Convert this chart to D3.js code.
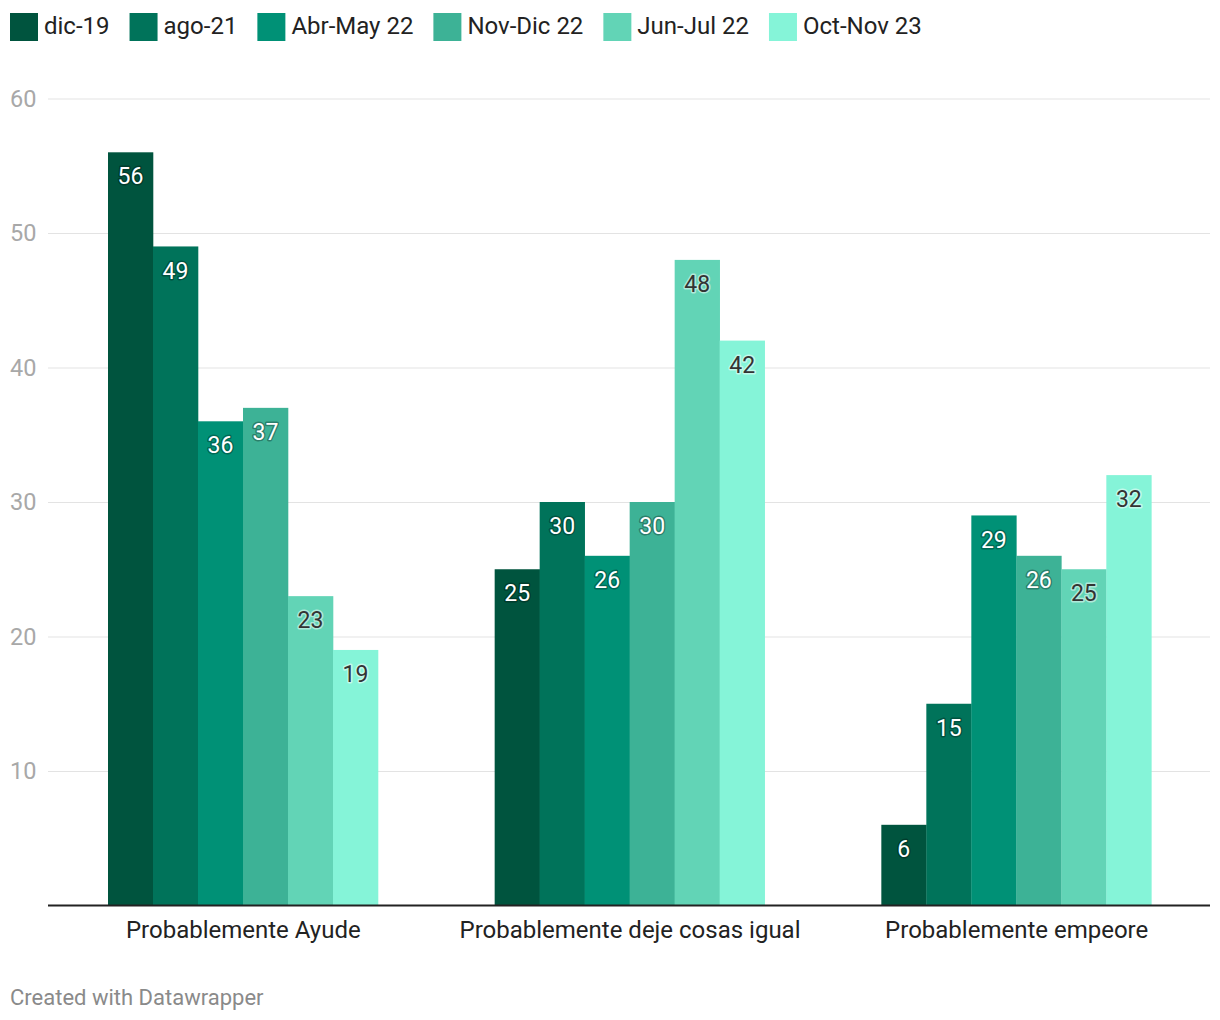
<!DOCTYPE html>
<html><head><meta charset="utf-8">
<script src="https://cdn.jsdelivr.net/npm/d3@7"></script>
<style>body{margin:0;background:#fff;font-family:Roboto,"Noto Sans",sans-serif;}</style>
</head><body>
<svg id="c" width="1220" height="1020"></svg>
<script>
const categories = ["Probablemente Ayude", "Probablemente deje cosas igual", "Probablemente empeore"];
const seriesNames = ["dic-19", "ago-21", "Abr-May 22", "Nov-Dic 22", "Jun-Jul 22", "Oct-Nov 23"];
const seriesColors = ["#00543e", "#00735a", "#009176", "#3db296", "#62d4b6", "#85f4d8"];
const seriesValues = [
  [56, 25, 6],
  [49, 30, 15],
  [36, 26, 29],
  [37, 30, 26],
  [23, 48, 25],
  [19, 42, 32]
];
const yTicks = [10, 20, 30, 40, 50, 60];

const svg = d3.select("#c");
const y = d3.scaleLinear().domain([0, 60]).range([905.5, 98.5]);
const x0 = d3.scaleBand().domain(categories).range([50, 1210]);
const x1 = d3.scaleBand().domain(seriesNames).range([58, 328]);
const font = "Roboto, 'Noto Sans', sans-serif";

// gridlines + y labels
const yAxis = d3.axisLeft(y).tickValues(yTicks).tickSize(-1162).tickFormat(d3.format("d"));
const gy = svg.append("g").attr("transform", "translate(1210,0)").call(yAxis);
gy.select(".domain").remove();
gy.selectAll(".tick line").attr("stroke", "#e3e3e3").attr("stroke-width", 1).attr("x1", 0).attr("x2", -1162);
gy.selectAll(".tick text").remove();
svg.append("g").selectAll("text").data(yTicks).join("text")
  .attr("x", 10).attr("y", d => y(d)).attr("dy", "0.35em")
  .attr("font-family", font).attr("font-size", 23.5).attr("fill", "#a8a8a8").text(d => d);

// bars
seriesNames.forEach((s, si) => {
  categories.forEach((c, ci) => {
    const v = seriesValues[si][ci];
    const bx = x0(c) + x1(s);
    svg.append("rect").attr("x", bx).attr("y", y(v)).attr("width", x1.bandwidth()+0.3)
      .attr("height", y(0) - y(v)).attr("fill", seriesColors[si]);
  });
});
// labels
seriesNames.forEach((s, si) => {
  const dark = si >= 4;
  categories.forEach((c, ci) => {
    const v = seriesValues[si][ci];
    const cx = x0(c) + x1(s) + x1.bandwidth() / 2;
    svg.append("text").attr("x", cx).attr("y", y(v) + 24).attr("dy", "0.35em")
      .attr("text-anchor", "middle").attr("font-family", font).attr("font-size", 23)
      .attr("fill", dark ? "#333" : "#fff")
      .attr("stroke", dark ? "rgba(255,255,255,0.5)" : "rgba(0,0,0,0.3)")
      .attr("stroke-width", 3).attr("paint-order", "stroke").attr("stroke-linejoin", "round")
      .text(v);
  });
});

// baseline
svg.append("line").attr("x1", 48).attr("x2", 1210).attr("y1", 905.5).attr("y2", 905.5)
  .attr("stroke", "#222").attr("stroke-width", 2);

// x axis labels
const xAxis = d3.axisBottom(x0).tickSize(0).tickPadding(0);
const gx = svg.append("g").attr("transform", "translate(0,930)").call(xAxis);
gx.select(".domain").remove();
gx.selectAll(".tick text").attr("font-family", font).attr("font-size", 24).attr("fill", "#222")
  .attr("dy", "0.35em").attr("y", 0);

// legend
const leg = svg.append("g");
let lx = 10;
seriesNames.forEach((s, i) => {
  leg.append("rect").attr("x", lx).attr("y", 13).attr("width", 28).attr("height", 28).attr("fill", seriesColors[i]);
  const t = leg.append("text").attr("x", lx + 34).attr("y", 26).attr("dy", "0.35em")
    .attr("font-family", font).attr("font-size", 24).attr("fill", "#222").text(s);
  lx = lx + 34 + t.node().getComputedTextLength() + 20;
});

// footer
svg.append("text").attr("x", 10).attr("y", 997).attr("dy", "0.35em")
  .attr("font-family", font).attr("font-size", 22).attr("fill", "#8a8a8a").text("Created with Datawrapper");
</script>
</body></html>
